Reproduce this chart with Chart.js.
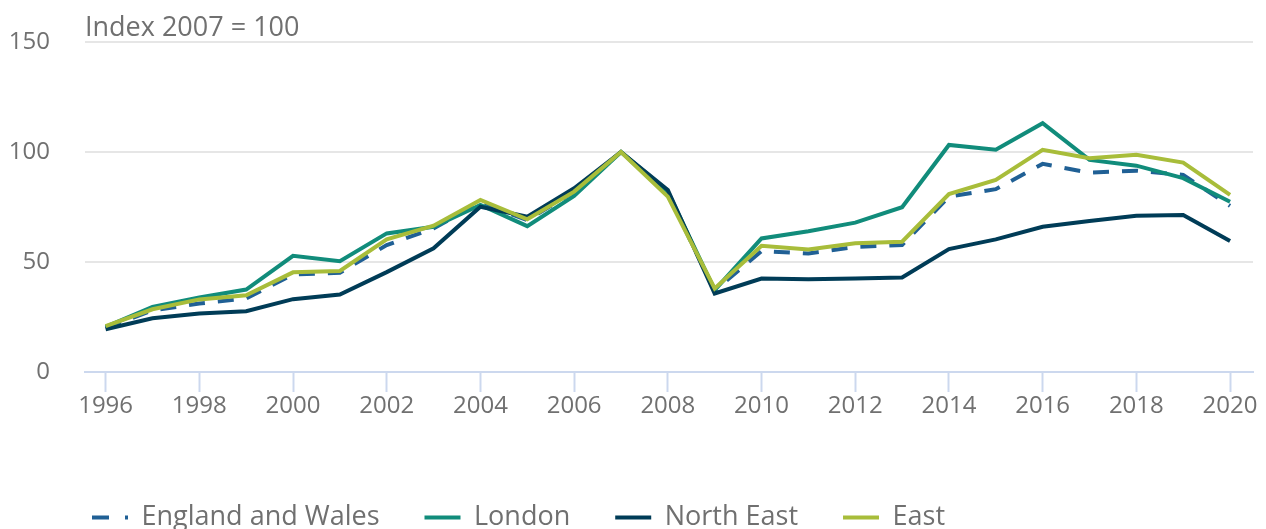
<!DOCTYPE html>
<html>
<head>
<meta charset="utf-8">
<script src="https://cdn.jsdelivr.net/npm/chart.js@4"></script>
<style>
  html, body { margin: 0; padding: 0; background: #ffffff; }
  #wrap { width: 1266px; height: 529px; }
</style>
</head>
<body>
<div id="wrap"><canvas id="c" width="1266" height="529"></canvas></div>
<script>
const years = [1996,1997,1998,1999,2000,2001,2002,2003,2004,2005,2006,2007,2008,2009,2010,2011,2012,2013,2014,2015,2016,2017,2018,2019,2020];
const englandWales = [20,28,31.1,33.4,44.3,45.1,57.7,65.3,77,69,82,100,81,37,55,53.9,56.9,57.7,79.7,83.1,94.6,90.6,91.5,89.6,75.5];
const london       = [20.5,29.6,33.9,37.5,52.8,50.4,63,66,75.9,66.3,80,100,82,37.2,60.7,64,67.9,74.9,103.2,101,113.1,96.4,93.8,88.1,77.4];
const northEast    = [19.4,24.4,26.6,27.6,33.1,35.2,45.4,56.2,75.1,70.6,83.5,100,82.7,35.7,42.5,42.2,42.5,43,55.9,60.3,66,68.6,71,71.4,59.5];
const east         = [20.8,28.5,33,34.9,45.3,45.9,60.3,66.5,78.2,69.4,82,100,79.7,38,57.4,55.7,58.5,59.2,80.9,87.3,101,97.2,98.7,95.2,80.5];
const seriesNames = ['England and Wales','London','North East','East'];
const yTicks = [0,50,100,150];
const xTickYears = [1996,1998,2000,2002,2004,2006,2008,2010,2012,2014,2016,2018,2020];
const titleText = 'Index 2007 = 100';

const FONT = "'Open Sans', sans-serif";
const TEXT = '#707070';

const titlePlugin = {
  id: 'indexTitle',
  afterDraw(chart) {
    const ctx = chart.ctx;
    ctx.save();
    ctx.font = "27px " + FONT;
    ctx.fillStyle = TEXT;
    ctx.textAlign = 'left';
    ctx.textBaseline = 'alphabetic';
    ctx.fillText(titleText, chart.chartArea.left, 36);
    ctx.restore();
  }
};
const legendShift = {
  id: 'legendShift',
  afterLayout(chart) {
    const lg = chart.legend;
    if (!lg) return;
    lg.left += 37; lg.right += 37;
    lg.top += 12; lg.bottom += 12;
  }
};

new Chart(document.getElementById('c'), {
  type: 'line',
  data: {
    labels: years,
    datasets: [
      { label: seriesNames[0], data: englandWales, borderColor: '#206095', backgroundColor: '#206095', borderDash: [16,13], order: 3 },
      { label: seriesNames[1], data: london, borderColor: '#118c7b', backgroundColor: '#118c7b', order: 2 },
      { label: seriesNames[2], data: northEast, borderColor: '#003c57', backgroundColor: '#003c57', order: 1 },
      { label: seriesNames[3], data: east, borderColor: '#a8bd3a', backgroundColor: '#a8bd3a', order: 0 }
    ]
  },
  options: {
    responsive: false,
    devicePixelRatio: 1,
    animation: false,
    layout: { padding: { left: 10, right: 13, top: 42, bottom: 0 } },
    elements: {
      line: { borderWidth: 4, tension: 0, borderCapStyle: 'butt', borderJoinStyle: 'miter', fill: false },
      point: { radius: 0, hoverRadius: 0 }
    },
    scales: {
      x: {
        type: 'linear',
        min: 1995.56,
        max: 2020.49,
        afterBuildTicks: (scale) => { scale.ticks = xTickYears.map(v => ({ value: v })); },
        afterFit: (scale) => { scale.height = 75; scale.paddingLeft = 0; scale.paddingRight = 0; },
        ticks: { autoSkip: false, maxRotation: 0, color: TEXT, font: { family: FONT, size: 24 }, padding: 0, callback: (v) => String(v) },
        grid: { drawOnChartArea: false, drawTicks: true, tickLength: 20, tickWidth: 2, tickColor: '#ccd8ee' },
        border: { display: true, color: '#ccd8ee', width: 2 }
      },
      y: {
        min: 0, max: 150,
        afterBuildTicks: (scale) => { scale.ticks = yTicks.map(v => ({ value: v })); },
        afterFit: (scale) => { scale.width = 75; scale.paddingTop = 0; scale.paddingBottom = 0; },
        ticks: { color: TEXT, font: { family: FONT, size: 24 }, padding: 35 },
        grid: { color: (c) => c.tick && c.tick.value === 0 ? 'rgba(0,0,0,0)' : '#e6e6e6', lineWidth: 2, drawTicks: false },
        border: { display: false }
      }
    },
    plugins: {
      title: { display: false },
      tooltip: { enabled: false },
      legend: {
        position: 'bottom',
        align: 'start',
        labels: {
          usePointStyle: true,
          pointStyle: 'line',
          pointStyleWidth: 36,
          boxWidth: 36,
          padding: 45,
          color: TEXT,
          font: { family: FONT, size: 27 },
          sort: (a, b) => a.datasetIndex - b.datasetIndex,
          generateLabels: (chart) => {
            const items = Chart.defaults.plugins.legend.labels.generateLabels(chart);
            items.forEach(it => {
              it.pointStyle = 'line';
              it.lineWidth = 4;
              it.lineDash = it.datasetIndex === 0 ? [17,16] : [];
            });
            return items;
          }
        }
      }
    }
  },
  plugins: [titlePlugin, legendShift]
});
</script>
</body>
</html>
